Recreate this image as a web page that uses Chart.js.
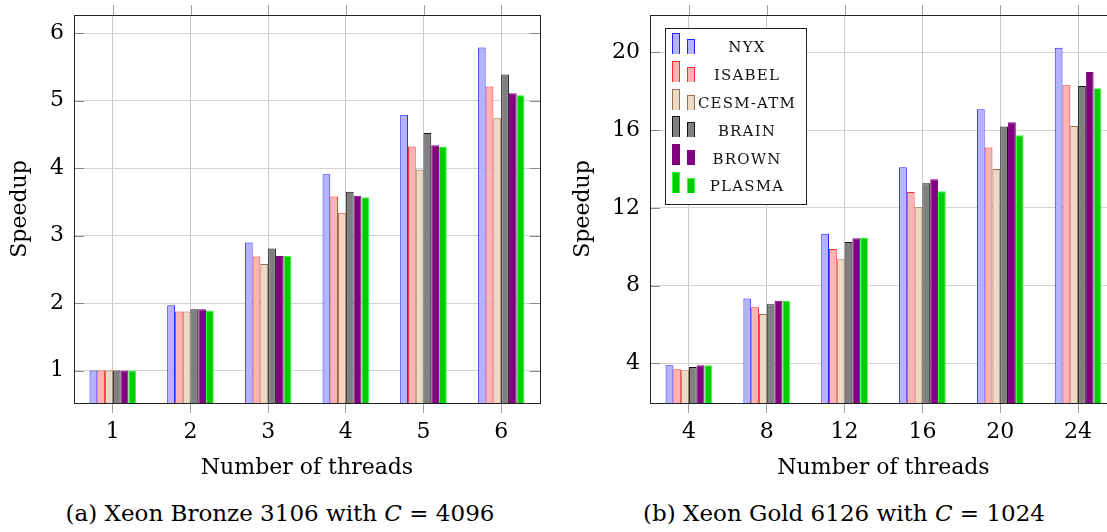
<!DOCTYPE html>
<html>
<head>
<meta charset="utf-8">
<title>Speedup per thread count</title>
<script src="https://cdn.jsdelivr.net/npm/chart.js@4.4.0/dist/chart.umd.min.js"></script>
<style>
    html, body { margin: 0; padding: 0; background: #fff; overflow: hidden; width: 1107px; height: 532px; }
    .panel { position: absolute; top: 0; }
    #panelA { left: 0; width: 550px; height: 482px; }
    #panelB { left: 560px; width: 570px; height: 482px; }
    .caption { position: absolute; top: 499px; font-family: 'DejaVu Serif', serif; font-size: 23px; line-height: 28px; white-space: nowrap; transform: translateX(-50%); color: #000; }
</style>
</head>
<body>
<div class="panel" id="panelA"><canvas id="chartA" width="550" height="482"></canvas></div>
<div class="panel" id="panelB"><canvas id="chartB" width="570" height="482"></canvas></div>
<div class="caption" style="left:280px">(a) Xeon Bronze 3106 with <i>C</i> = 4096</div>
<div class="caption" style="left:844px">(b) Xeon Gold 6126 with <i>C</i> = 1024</div>

<script>
"use strict";

// Series names (legend order)
const seriesNames = ['NYX', 'ISABEL', 'CESM-ATM', 'BRAIN', 'BROWN', 'PLASMA'];

// (a) Xeon Bronze 3106, C = 4096
const threadsA = ['1', '2', '3', '4', '5', '6'];
const yTicksA = [1, 2, 3, 4, 5, 6];
const nyxA = [1.00, 1.97, 2.90, 3.91, 4.79, 5.79];
const isabelA = [1.00, 1.875, 2.69, 3.58, 4.32, 5.21];
const cesmA = [1.00, 1.875, 2.58, 3.34, 3.98, 4.74];
const brainA = [1.00, 1.91, 2.81, 3.65, 4.52, 5.39];
const brownA = [1.00, 1.91, 2.70, 3.59, 4.34, 5.11];
const plasmaA = [1.00, 1.89, 2.70, 3.57, 4.32, 5.08];

// (b) Xeon Gold 6126, C = 1024
const threadsB = ['4', '8', '12', '16', '20', '24'];
const yTicksB = [4, 8, 12, 16, 20];
const nyxB = [3.90, 7.34, 10.67, 14.09, 17.07, 20.24];
const isabelB = [3.69, 6.88, 9.88, 12.82, 15.10, 18.31];
const cesmB = [3.64, 6.54, 9.35, 12.03, 14.00, 16.21];
const brainB = [3.81, 7.04, 10.24, 13.26, 16.18, 18.27];
const brownB = [3.90, 7.22, 10.43, 13.47, 16.40, 18.99];
const plasmaB = [3.90, 7.22, 10.48, 12.85, 15.73, 18.15];

// Fill / border colours per series
const fills = ['#b3b3ff', '#ffb3b3', '#ecd9c6', '#808080', '#800080', '#00cc00'];
const borders = ['#2222ff', '#ff2a2a', '#9a6e48', '#111111', '#800080', '#33ff33'];

var KTSpeedupCharts = function () {

    var makeDatasets = function (values) {
        return values.map(function (data, i) {
            return {
                label: seriesNames[i],
                data: data,
                backgroundColor: fills[i],
                borderColor: borders[i],
                borderWidth: 1,
                categoryPercentage: 0.6,
                barPercentage: 1.0
            };
        });
    };

    // Drop the extra label padding Chart.js reserves around the plot
    var noEdgePadding = function (scale) {
        scale.paddingTop = 0;
        scale.paddingBottom = 0;
        scale.paddingLeft = 0;
        scale.paddingRight = 0;
    };

    // Box around the plot area plus the small tick marks on its edges
    var framePlugin = {
        id: 'frame',
        afterDatasetsDraw: function (chart) {
            var ctx = chart.ctx;
            var a = chart.chartArea;
            var xs = chart.scales.x;
            var ys = chart.scales.y;
            ctx.save();
            ctx.lineWidth = 1;

            ctx.strokeStyle = '#a0a0a0';
            ctx.beginPath();
            xs.ticks.forEach(function (t, i) {
                var px = Math.round(xs.getPixelForTick(i)) + 0.5;
                ctx.moveTo(px, a.top - 10);
                ctx.lineTo(px, a.top);
            });
            ctx.stroke();

            ctx.strokeStyle = '#8a8a8a';
            ctx.beginPath();
            ys.ticks.forEach(function (t, i) {
                var py = Math.round(ys.getPixelForTick(i)) + 0.5;
                ctx.moveTo(a.left, py);
                ctx.lineTo(a.left + 10, py);
                ctx.moveTo(a.right - 10, py);
                ctx.lineTo(a.right, py);
            });
            ctx.stroke();

            ctx.strokeStyle = '#222';
            ctx.strokeRect(Math.round(a.left) + 0.5, Math.round(a.top) + 0.5,
                Math.round(a.right - a.left), Math.round(a.bottom - a.top));
            ctx.restore();
        }
    };

    // pgfplots-style legend: two bar glyphs per entry, inside a white box
    var legendPlugin = {
        id: 'barLegend',
        afterDraw: function (chart) {
            var ctx = chart.ctx;
            var a = chart.chartArea;
            var boxX = a.left + 15, boxY = a.top + 13, boxW = 141, boxH = 176;
            ctx.save();
            ctx.fillStyle = '#fff';
            ctx.fillRect(boxX, boxY, boxW, boxH);
            ctx.strokeStyle = '#222';
            ctx.lineWidth = 1;
            ctx.strokeRect(Math.round(boxX) + 0.5, Math.round(boxY) + 0.5, boxW, boxH);

            ctx.font = '15px "DejaVu Serif"';
            ctx.letterSpacing = '1.2px';
            ctx.textAlign = 'center';
            ctx.textBaseline = 'middle';
            chart.data.datasets.forEach(function (ds, i) {
                var cy = a.top + 32.5 + i * 27.8;
                var bottom = Math.round(cy + 6.5);
                [[a.left + 22, 21], [a.left + 36.5, 15]].forEach(function (g) {
                    var gx = Math.round(g[0]);
                    ctx.fillStyle = ds.borderColor;
                    ctx.fillRect(gx, bottom - g[1], 8, g[1]);
                    ctx.fillStyle = ds.backgroundColor;
                    ctx.fillRect(gx + 1, bottom - g[1] + 1, 6, g[1] - 1);
                });
                ctx.fillStyle = '#111';
                ctx.fillText(ds.label, a.left + 97, cy + 1);
            });
            ctx.restore();
        }
    };

    var buildChart = function (el, labels, values, yMin, yMax, yTicks, yWidth, titlePad, padRight, plugins) {
        var ctx = document.getElementById(el);

        const config = {
            type: 'bar',
            data: {
                labels: labels,
                datasets: makeDatasets(values)
            },
            options: {
                responsive: false,
                animation: false,
                devicePixelRatio: 1,
                layout: {
                    padding: { top: 15, right: padRight, left: 0, bottom: 0 }
                },
                plugins: {
                    legend: { display: false },
                    tooltip: { enabled: false },
                    title: { display: false }
                },
                scales: {
                    x: {
                        grid: { color: '#c8c8c8', tickColor: '#a0a0a0', tickLength: 10, offset: false },
                        border: { display: false },
                        ticks: { padding: 6, color: '#000', font: { size: 22 }, maxRotation: 0 },
                        title: {
                            display: true,
                            text: 'Number of threads',
                            color: '#000',
                            font: { size: 22 },
                            padding: { top: 0, bottom: 1 }
                        },
                        afterFit: function (scale) {
                            scale.height = 79;
                            noEdgePadding(scale);
                        }
                    },
                    y: {
                        min: yMin,
                        max: yMax,
                        afterBuildTicks: function (scale) {
                            scale.ticks = yTicks.map(function (v) { return { value: v }; });
                        },
                        grid: { color: '#d4d4d4', drawTicks: false },
                        border: { display: false },
                        ticks: { padding: 10, color: '#000', font: { size: 22 } },
                        title: {
                            display: true,
                            text: 'Speedup',
                            color: '#000',
                            font: { size: 22 },
                            padding: { top: titlePad, bottom: 0 }
                        },
                        afterFit: function (scale) {
                            scale.width = yWidth;
                            noEdgePadding(scale);
                        }
                    }
                }
            },
            plugins: plugins
        };

        return new Chart(ctx, config);
    };

    return {
        init: function () {
            Chart.defaults.font.family = '"DejaVu Serif", serif';
            Chart.defaults.color = '#000';

            buildChart('chartA', threadsA,
                [nyxA, isabelA, cesmA, brainA, brownA, plasmaA],
                0.52, 6.27, yTicksA, 74, 7, 10, [framePlugin]);

            buildChart('chartB', threadsB,
                [nyxB, isabelB, cesmB, brainB, brownB, plasmaB],
                1.96, 21.92, yTicksB, 90, 10, 13, [framePlugin, legendPlugin]);
        }
    };
}();

KTSpeedupCharts.init();
</script>
</body>
</html>
